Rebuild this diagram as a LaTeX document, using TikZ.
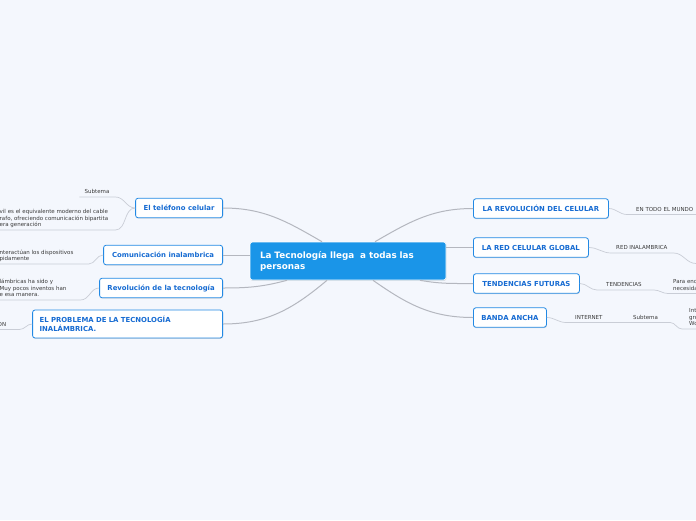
\documentclass[tikz,border=0pt]{standalone}
\usepackage{fontspec}
\setmainfont{DejaVu Sans}
\usetikzlibrary{positioning,shadows,calc}
\definecolor{paper}{HTML}{F4F7FD}
\definecolor{hub}{HTML}{1A95E8}
\definecolor{rim}{HTML}{2289E4}
\definecolor{tint}{HTML}{166BD2}
\definecolor{twig}{HTML}{B4B7BF}
\definecolor{leafline}{HTML}{C9CDD6}
\definecolor{leafink}{HTML}{3A3A3A}
\tikzset{
  hubbox/.style={fill=hub,draw=white,line width=0.6pt,rounded corners=2.5pt,text=white,align=left,
    font=\fontsize{8.8}{11}\selectfont\bfseries,text width=176pt,inner xsep=10pt,inner ysep=0pt,
    minimum width=196pt,minimum height=38pt,drop shadow={shadow xshift=0.4pt,shadow yshift=-0.9pt,opacity=0.25}},
  topic/.style={draw=rim,fill=white,line width=0.8pt,rounded corners=2.5pt,text=tint,align=center,
    font=\fontsize{6.9}{9}\selectfont\bfseries,inner xsep=6pt,inner ysep=0pt,minimum height=19.5pt,
    drop shadow={shadow xshift=0.4pt,shadow yshift=-0.9pt,opacity=0.25}},
  note/.style={font=\fontsize{5.5}{6.5}\selectfont,text=leafink,align=left,inner xsep=0pt,inner ysep=1.6pt,text depth=1.3pt},
  branch/.style={draw=twig,line width=1pt},
  stem/.style={draw=leafline,line width=0.7pt},
}
\begin{document}
\begin{tikzpicture}[x=1pt,y=1pt]
  \useasboundingbox (0,0) rectangle (696,-520);
  \fill[paper] (0,0) rectangle (696,-520);
  \clip (0,0) rectangle (696,-520);

  \node[hubbox] (root) at (348,-261) {La Tecnología llega\ \ a todas las\\personas};

  \node[topic,anchor=east,minimum width=87pt] (tel) at (223,-208) {El teléfono celular};
  \node[topic,anchor=east,minimum width=119pt] (com) at (223,-255) {Comunicación inalambrica};
  \node[topic,anchor=east,minimum width=123pt] (rev) at (223,-288) {Revolución de la tecnología};
  \node[topic,anchor=east,minimum width=190pt,minimum height=28pt,text width=176pt,align=left] (prob) at (223,-324) {EL PROBLEMA DE LA TECNOLOGÍA\\INALÁMBRICA.};
  \node[topic,anchor=west,minimum width=135pt] (revcel) at (473,-208.5) {LA REVOLUCIÓN DEL CELULAR};
  \node[topic,anchor=west,minimum width=115pt] (red) at (473,-247.5) {LA RED CELULAR GLOBAL};
  \node[topic,anchor=west,minimum width=106pt] (tend) at (473,-283.5) {TENDENCIAS FUTURAS};
  \node[topic,anchor=west,minimum width=73pt] (banda) at (473,-317.5) {BANDA ANCHA};

  \node[note,anchor=south] (sub1) at (97,-197) {Subtema};
  \node[note,anchor=south west] (mov) at (-0.5,-230) {vil es el equivalente moderno del cable\\rafo, ofreciendo comunicación bipartita\\era generación};
  \node[note,anchor=south west] (aire) at (-0.5,-264) {nteractúan los dispositivos\\pidamente};
  \node[note,anchor=south west] (inv) at (-0.5,-300) {lámbricas ha sido y\\Muy pocos inventos han\\e esa manera.};
  \node[note,anchor=south west] (pb) at (-2.5,-329.5) {ON};

  \node[note,anchor=south west] (mundo) at (636,-214.5) {EN TODO EL MUNDO};
  \node[note,anchor=south west] (inal) at (616,-253) {RED INALAMBRICA};
  \coordinate (inalnext) at (712,-263.5);
  \node[note,anchor=south west] (tend1) at (606,-290) {TENDENCIAS};
  \node[note,anchor=south west] (para) at (673,-293.5) {Para enc\\necesida};
  \node[note,anchor=south west] (net) at (575,-322.5) {INTERNET};
  \node[note,anchor=south west] (sub2) at (633,-322.5) {Subtema};
  \node[note,anchor=south west] (web) at (689,-329) {Int\\gro\\Wo};

  \draw[branch] (tel.east) to[out=0,in=150] ([xshift=-26pt]root.north);
  \draw[branch] (com.east) -- (com.east -| root.west);
  \draw[branch] (rev.east) to[out=0,in=195] ([xshift=-61pt]root.south);
  \draw[branch] (prob.east) to[out=0,in=220] ([xshift=-21pt]root.south);
  \draw[branch] ([xshift=27pt]root.north) to[out=30,in=180] (revcel.west);
  \draw[branch] (red.west -| root.east) -- (red.west);
  \draw[branch] ([xshift=72pt]root.south) to[out=-10,in=180] (tend.west);
  \draw[branch] ([xshift=25pt]root.south) to[out=-35,in=180] (banda.west);

  \draw[stem] (tel.west) to[out=180,in=0] ([xshift=6pt]sub1.south east) -- ([xshift=-5pt]sub1.south west);
  \draw[stem] (tel.west) to[out=180,in=0] ([xshift=7pt]mov.south east) -- (mov.south west);
  \draw[stem] (com.west) to[out=180,in=0] ([xshift=15pt]aire.south east) -- (aire.south west);
  \draw[stem] (rev.west) to[out=180,in=0] ([xshift=14pt]inv.south east) -- (inv.south west);
  \draw[stem] (prob.west) to[out=180,in=0] ([xshift=13pt]pb.south east) -- (pb.south west);
  \draw[stem] (revcel.east) to[out=0,in=180] ([xshift=-9pt]mundo.south west) -- ([xshift=10pt]mundo.south east);
  \draw[stem] (red.east) to[out=0,in=180] ([xshift=-5pt]inal.south west) -- ([xshift=6pt]inal.south east) to[out=0,in=180] ([xshift=-16pt]inalnext) -- (inalnext);
  \draw[stem] (tend.east) to[out=0,in=180] ([xshift=-9pt]tend1.south west) -- ([xshift=12pt]tend1.south east) to[out=0,in=180] ([xshift=-5pt]para.south west) -- ([xshift=8pt]para.south east);
  \draw[stem] (banda.east) to[out=0,in=180] ([xshift=-9pt]net.south west) -- ([xshift=-11pt]sub2.south west) -- ([xshift=12pt]sub2.south east) to[out=0,in=180] ([xshift=-7pt]web.south west) -- ([xshift=10pt]web.south east);
\end{tikzpicture}
\end{document}
